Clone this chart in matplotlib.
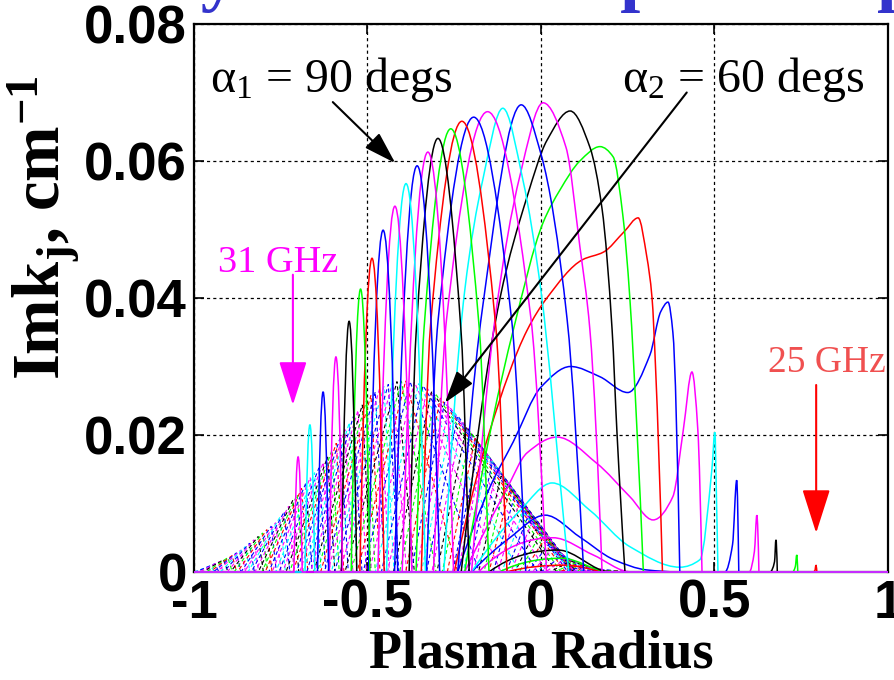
import numpy as np
import matplotlib
matplotlib.use("Agg")
import matplotlib.pyplot as plt
from matplotlib.path import Path
from matplotlib.patches import PathPatch

# ---------------- data ----------------
# solid family (alpha1 = 90 degs), 31 GHz (left) ... 25 GHz (right)
sol_colors = ['m', 'c', 'b', 'm', 'k', 'g', 'r', 'b',
              'm', 'c', 'b', 'm', 'k', 'g', 'r', 'b',
              'm', 'c', 'b', 'm', 'k', 'g', 'r', 'b',
              'm', 'c', 'b', 'm', 'k', 'g', 'r']
sol_x = [
    [-0.712, -0.700, -0.688],
    [-0.680, -0.666, -0.652],
    [-0.644, -0.628, -0.612],
    [-0.610, -0.591, -0.572],
    [-0.575, -0.553, -0.531],
    [-0.547, -0.520, -0.493],
    [-0.522, -0.487, -0.452],
    [-0.497, -0.455, -0.413],
    [-0.470, -0.421, -0.372],
    [-0.445, -0.389, -0.333],
    [-0.422, -0.357, -0.292],
    [-0.400, -0.326, -0.252],
    [-0.380, -0.360, -0.297, -0.230, -0.207],
    [-0.360, -0.337, -0.260, -0.178, -0.150],
    [-0.345, -0.318, -0.228, -0.131, -0.098],
    [-0.330, -0.297, -0.194, -0.084, -0.044],
    [-0.310, -0.272, -0.154, -0.029, 0.016],
    [-0.280, -0.220, -0.168, -0.110, -0.052, 0.000, 0.069, 0.080],
    [-0.240, -0.170, -0.057, 0.000, 0.075, 0.123],
    [-0.200, -0.135, -0.060, 0.006, 0.072, 0.112, 0.141, 0.176],
    [-0.230, -0.118, -0.040, 0.017, 0.084, 0.141, 0.176, 0.205, 0.219, 0.242],
    [-0.220, -0.140, -0.080, 0.006, 0.055, 0.112, 0.170, 0.208, 0.236, 0.256, 0.277, 0.295],
    [-0.250, -0.147, -0.040, 0.017, 0.120, 0.180, 0.240, 0.280, 0.305, 0.320, 0.330, 0.350],
    [-0.240, -0.147, -0.080, 0.000, 0.085, 0.170, 0.250, 0.314, 0.345, 0.366, 0.380, 0.400],
    [-0.220, -0.100, -0.040, 0.046, 0.160, 0.256, 0.323, 0.380, 0.410, 0.435, 0.452, 0.464],
    [-0.200, -0.060, 0.032, 0.141, 0.256, 0.400, 0.458, 0.493, 0.501, 0.506, 0.510],
    [-0.200, -0.090, 0.012, 0.112, 0.210, 0.305, 0.400, 0.530, 0.552, 0.564, 0.570],
    [-0.180, 0.035, 0.150, 0.260, 0.600, 0.615, 0.622, 0.628],
    [-0.150, 0.050, 0.200, 0.660, 0.673, 0.677, 0.681],
    [-0.120, 0.060, 0.200, 0.725, 0.733, 0.737, 0.740],
    [-0.100, 0.070, 0.200, 0.785, 0.790, 0.792, 0.795],
]
sol_y = [
    [0, 0.0168, 0],
    [0, 0.0215, 0],
    [0, 0.0263, 0],
    [0, 0.0314, 0],
    [0, 0.0366, 0],
    [0, 0.0413, 0],
    [0, 0.0458, 0],
    [0, 0.0499, 0],
    [0, 0.0534, 0],
    [0, 0.0567, 0],
    [0, 0.0593, 0],
    [0, 0.0613, 0],
    [0, 0.0348, 0.0633, 0.0348, 0],
    [0, 0.0356, 0.0647, 0.0356, 0],
    [0, 0.0362, 0.0658, 0.0362, 0],
    [0, 0.0365, 0.0664, 0.0365, 0],
    [0, 0.0370, 0.0672, 0.0370, 0],
    [0, 0.0410, 0.0572, 0.0677, 0.0572, 0.0410, 0.0057, 0],
    [0, 0.0380, 0.0682, 0.0610, 0.0370, 0],
    [0, 0.0360, 0.0580, 0.0685, 0.0620, 0.0475, 0.0353, 0],
    [0, 0.0400, 0.0548, 0.0630, 0.0673, 0.0620, 0.0530, 0.0353, 0.0203, 0],
    [0, 0.0220, 0.0353, 0.0510, 0.0558, 0.0600, 0.0621, 0.0606, 0.0520, 0.0400, 0.0203, 0],
    [0, 0.0207, 0.0353, 0.0400, 0.0456, 0.0467, 0.0497, 0.0517, 0.0460, 0.0400, 0.0300, 0],
    [0, 0.0124, 0.0190, 0.0270, 0.0300, 0.0285, 0.0262, 0.0317, 0.0380, 0.0394, 0.0350, 0],
    [0, 0.0120, 0.0174, 0.0197, 0.0159, 0.0110, 0.0076, 0.0110, 0.0207, 0.0292, 0.0207, 0],
    [0, 0.0090, 0.0130, 0.0090, 0.0037, 0.0007, 0.0018, 0.0153, 0.0204, 0.0100, 0],
    [0, 0.0050, 0.0083, 0.0051, 0.0018, 0.0003, 0, 0, 0.0040, 0.0134, 0],
    [0, 0.0050, 0.0025, 0, 0, 0.0030, 0.0083, 0],
    [0, 0.0032, 0, 0, 0.0015, 0.0047, 0],
    [0, 0.0020, 0, 0, 0.0008, 0.0025, 0],
    [0, 0.0010, 0, 0, 0.0003, 0.0010, 0],
]

# dashed family (alpha2 = 60 degs): peak position, peak height, left / right extent
dash_x = [-0.965, -0.9525, -0.94, -0.9275, -0.915, -0.9025, -0.89, -0.8775, -0.865, -0.8525,
          -0.84, -0.8275, -0.815, -0.8025, -0.79, -0.7775, -0.765, -0.7525, -0.74, -0.7275,
          -0.715, -0.7025, -0.69, -0.6775, -0.665, -0.6525, -0.64, -0.6275, -0.615, -0.6025,
          -0.59, -0.5775, -0.565, -0.5525, -0.54, -0.5275, -0.515, -0.5025, -0.49, -0.4775,
          -0.465, -0.4525, -0.44, -0.4275, -0.415, -0.4025, -0.39, -0.3775, -0.365, -0.3525,
          -0.34, -0.3275, -0.315, -0.3025, -0.29, -0.2775, -0.265, -0.2525, -0.24, -0.2275,
          -0.215, -0.2025, -0.19, -0.1775, -0.165, -0.1525, -0.14, -0.1275, -0.115, -0.1025,
          -0.09, -0.0775, -0.065, -0.0525, -0.04, -0.0275, -0.015, -0.0025, 0.01, 0.0225,
          0.035, 0.0475, 0.06, 0.0725, 0.085, 0.0975, 0.11, 0.1225, 0.135, 0.1475,
          0.16, 0.1725, 0.185, 0.1975, 0.21]
dash_y = [0.0006, 0.0009, 0.0012, 0.0015, 0.0018, 0.0021, 0.0024, 0.0028, 0.0032, 0.0037,
          0.0042, 0.0047, 0.0052, 0.0057, 0.0062, 0.0067, 0.0072, 0.0080, 0.0088, 0.0096,
          0.0105, 0.0113, 0.0122, 0.0130, 0.0138, 0.0145, 0.0152, 0.0160, 0.0168, 0.0178,
          0.0188, 0.0198, 0.0208, 0.0218, 0.0228, 0.0236, 0.0244, 0.0251, 0.0258, 0.0263,
          0.0268, 0.0271, 0.0274, 0.0276, 0.0278, 0.0279, 0.0279, 0.0278, 0.0277, 0.0275,
          0.0272, 0.0268, 0.0264, 0.0259, 0.0254, 0.0248, 0.0242, 0.0235, 0.0228, 0.0220,
          0.0212, 0.0204, 0.0195, 0.0187, 0.0178, 0.0169, 0.0160, 0.0150, 0.0140, 0.0130,
          0.0120, 0.0109, 0.0098, 0.0088, 0.0078, 0.0070, 0.0062, 0.0055, 0.0048, 0.0041,
          0.0035, 0.0029, 0.0024, 0.0020, 0.0016, 0.0013, 0.0010, 0.0008, 0.0006, 0.0005,
          0.0004, 0.0003, 0.0002, 0.00015, 0.0001]
dash_wl = [0.050, 0.052, 0.055, 0.057, 0.060, 0.062, 0.065, 0.067, 0.070, 0.072,
           0.075, 0.077, 0.080, 0.082, 0.085, 0.087, 0.090, 0.092, 0.095, 0.097,
           0.100, 0.102, 0.105, 0.107, 0.110, 0.112, 0.115, 0.117, 0.120, 0.122,
           0.125, 0.127, 0.130, 0.132, 0.135, 0.137, 0.140, 0.142, 0.145, 0.147,
           0.150, 0.152, 0.155, 0.152, 0.150, 0.145, 0.140, 0.135, 0.130, 0.125,
           0.120, 0.115, 0.110, 0.105, 0.100, 0.097, 0.095, 0.092, 0.090, 0.087,
           0.085, 0.082, 0.080, 0.077, 0.075, 0.072, 0.070, 0.067, 0.065, 0.062,
           0.060, 0.060, 0.060, 0.060, 0.060, 0.060, 0.060, 0.060, 0.060, 0.060,
           0.060, 0.060, 0.060, 0.060, 0.060, 0.060, 0.060, 0.060, 0.060, 0.060,
           0.060, 0.060, 0.060, 0.060, 0.060]
dash_wr = [0.012, 0.012, 0.012, 0.012, 0.013, 0.013, 0.013, 0.013, 0.014, 0.014,
           0.014, 0.014, 0.015, 0.015, 0.015, 0.015, 0.016, 0.016, 0.016, 0.016,
           0.017, 0.017, 0.018, 0.018, 0.019, 0.019, 0.020, 0.020, 0.021, 0.021,
           0.022, 0.022, 0.023, 0.023, 0.024, 0.024, 0.025, 0.025, 0.026, 0.027,
           0.028, 0.029, 0.030, 0.040, 0.050, 0.100, 0.150, 0.200, 0.250, 0.290,
           0.330, 0.345, 0.360, 0.360, 0.360, 0.355, 0.350, 0.340, 0.330, 0.320,
           0.310, 0.300, 0.290, 0.275, 0.260, 0.250, 0.240, 0.225, 0.210, 0.195,
           0.180, 0.165, 0.150, 0.140, 0.130, 0.125, 0.120, 0.115, 0.110, 0.105,
           0.100, 0.100, 0.100, 0.100, 0.100, 0.100, 0.100, 0.100, 0.100, 0.100,
           0.100, 0.100, 0.100, 0.100, 0.100]
dash_cycle = ['m', 'c', 'b', 'm', 'k', 'g', 'r', 'b']

x_ticks = [-1, -0.5, 0, 0.5, 1]
x_tick_labels = ['-1', '-0.5', '0', '0.5', '1']
y_ticks = [0, 0.02, 0.04, 0.06, 0.08]
y_tick_labels = ['0', '0.02', '0.04', '0.06', '0.08']

# ---------------- styling ----------------
COL = {'b': '#0000ff', 'g': '#00ff00', 'r': '#ff0000', 'c': '#00ffff',
       'm': '#ff00ff', 'k': '#000000'}
plt.rcParams['mathtext.fontset'] = 'custom'
plt.rcParams['mathtext.rm'] = 'Liberation Serif'
plt.rcParams['mathtext.it'] = 'Liberation Serif:italic'
plt.rcParams['mathtext.bf'] = 'Liberation Serif:bold'


def pchip_slopes(x, y):
    x = np.asarray(x, float); y = np.asarray(y, float)
    h = np.diff(x); d = np.diff(y) / h
    n = len(x)
    m = np.zeros(n)
    for k in range(1, n - 1):
        if d[k - 1] * d[k] > 0:
            w1 = 2 * h[k] + h[k - 1]
            w2 = h[k] + 2 * h[k - 1]
            m[k] = (w1 + w2) / (w1 / d[k - 1] + w2 / d[k])

    def ends(h0, h1, d0, d1):
        s = ((2 * h0 + h1) * d0 - h0 * d1) / (h0 + h1)
        if np.sign(s) != np.sign(d0):
            s = 0.0
        elif np.sign(d0) != np.sign(d1) and abs(s) > 3 * abs(d0):
            s = 3 * d0
        return s
    m[0] = ends(h[0], h[1], d[0], d[1])
    m[-1] = ends(h[-1], h[-2], d[-1], d[-2])
    return m


def curve_path(xs, ys, smooth=True):
    """Path through the read key points, flat at zero outside them."""
    verts = [(-1.0, 0.0), (max(xs[0], -1.0), ys[0])]
    codes = [Path.MOVETO, Path.LINETO]
    if smooth:
        m = pchip_slopes(xs, ys)
        for i in range(len(xs) - 1):
            hh = xs[i + 1] - xs[i]
            verts += [(xs[i] + hh / 3, ys[i] + m[i] * hh / 3),
                      (xs[i + 1] - hh / 3, ys[i + 1] - m[i + 1] * hh / 3),
                      (xs[i + 1], ys[i + 1])]
            codes += [Path.CURVE4] * 3
    else:
        for i in range(1, len(xs)):
            verts.append((xs[i], ys[i]))
            codes.append(Path.LINETO)
    verts.append((1.0, 0.0))
    codes.append(Path.LINETO)
    return Path(verts, codes)


fig = plt.figure(figsize=(8.95, 6.8), dpi=100)
ax = fig.add_axes([194 / 895, 108 / 680, 694 / 895, 548 / 680])
ax.set_xlim(-1, 1)
ax.set_ylim(0, 0.08)

# dashed family first
for i, (px, py, wl, wr) in enumerate(zip(dash_x, dash_y, dash_wl, dash_wr)):
    c = dash_cycle[i % len(dash_cycle)]
    p = curve_path([px - wl, px, px + wr], [0, py, 0], smooth=False)
    ax.add_patch(PathPatch(p, fill=False, edgecolor=COL[c], lw=0.8,
                           linestyle=(0, (3.5, 2.5)), zorder=3))

# solid family, 25 GHz drawn first ... 31 GHz last
for xs, ys, c in list(zip(sol_x, sol_y, sol_colors))[::-1]:
    pp = PathPatch(curve_path(xs, ys), fill=False, edgecolor=COL[c],
                   lw=1.1, zorder=3)
    ax.add_patch(pp)
    pp.set_clip_on(False)

ax.set_xticks(x_ticks)
ax.set_xticklabels(x_tick_labels)
ax.set_yticks(y_ticks)
ax.set_yticklabels(y_tick_labels)
for lab in ax.get_xticklabels() + ax.get_yticklabels():
    lab.set_fontfamily('Liberation Sans')
    lab.set_fontweight('bold')
    lab.set_fontsize(38)
ax.tick_params(direction='in', length=7, width=1.2, top=True, right=True, pad=5)
ax.grid(True, color='k', linestyle=(0, (2.5, 2.5)), lw=0.9)
ax.set_axisbelow(True)
for s in ax.spines.values():
    s.set_linewidth(1.6)

# axis labels
fig.text(541 / 895, 1 - 668 / 680, 'Plasma Radius', fontsize=39, fontweight='bold',
         family='Liberation Serif', ha='center', va='baseline')
fig.text(44 / 895, 1 - 228 / 680, r'Imk$_{\mathbf{j}}$, cm$^{\mathbf{-1}}$',
         rotation=90, fontsize=48, fontweight='bold', family='Liberation Serif',
         ha='center', va='center')

# top (cropped) blue title
fig.text(-72 / 895, 1 + 2 / 680, 'Efficiency of the absorption of power',
         color='#3333cc', fontsize=52, fontweight='bold', family='Liberation Serif',
         ha='left', va='baseline')

# annotations
ax.text(-0.955, 0.0701, r'$\mathrm{\alpha}_1$ = 90 degs', fontsize=34.5,
        family='Liberation Serif', ha='left', va='baseline', zorder=5)
ax.text(0.234, 0.0701, r'$\mathrm{\alpha}_2$ = 60 degs', fontsize=34.5,
        family='Liberation Serif', ha='left', va='baseline', zorder=5)
ax.annotate('', xy=(-0.42, 0.0597), xytext=(-0.60, 0.0686),
            arrowprops=dict(arrowstyle='-|>,head_length=0.8,head_width=0.25',
                            color='k', lw=1.5, mutation_scale=25,
                            shrinkA=0, shrinkB=0), zorder=6)
ax.annotate('', xy=(-0.277, 0.0247), xytext=(0.42, 0.0700),
            arrowprops=dict(arrowstyle='-|>,head_length=0.8,head_width=0.25',
                            color='k', lw=1.5, mutation_scale=25,
                            shrinkA=0, shrinkB=0), zorder=6)

ax.text(-0.93, 0.0438, '31 GHz', fontsize=27.5, family='Liberation Serif',
        color='#ff00ff', ha='left', va='baseline', zorder=5)
ax.annotate('', xy=(-0.715, 0.0244), xytext=(-0.715, 0.0434),
            arrowprops=dict(arrowstyle='-|>,head_length=1.1,head_width=0.35',
                            color='#ff00ff', lw=1.5, mutation_scale=25,
                            shrinkA=0, shrinkB=0), zorder=6)
ax.text(0.654, 0.0292, '25 GHz', fontsize=27, family='Liberation Serif',
        color='#f05050', ha='left', va='baseline', zorder=5)
ax.annotate('', xy=(0.793, 0.0057), xytext=(0.793, 0.0273),
            arrowprops=dict(arrowstyle='-|>,head_length=1.1,head_width=0.35',
                            color='#ff0000', lw=1.5, mutation_scale=25,
                            shrinkA=0, shrinkB=0), zorder=6)

fig.savefig('out.png', dpi=100)
